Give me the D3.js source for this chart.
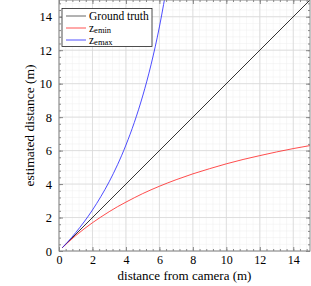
<!DOCTYPE html>
<html>
<head>
<meta charset="utf-8">
<script src="https://cdn.jsdelivr.net/npm/d3@7"></script>
<style>
  body { margin: 0; background: #fff; }
  svg text { font-family: "Liberation Serif", "DejaVu Serif", serif; fill: #000; }
</style>
</head>
<body>
<div id="chart"></div>
<script>
// values
const truthX = [0.2, 15];
const truthY = [0.2, 15];

const eminX = [0.2, 0.5, 1, 1.5, 2, 2.5, 3, 3.5, 4, 5, 6, 7, 8, 9, 10, 11, 12, 13, 14, 15];
const eminY = [0.2, 0.48, 0.92, 1.32, 1.69, 2.03, 2.35, 2.65, 2.92, 3.43, 3.87, 4.26, 4.61, 4.92, 5.21, 5.47, 5.7, 5.92, 6.12, 6.3];

const emaxX = [0.2, 0.5, 1, 1.5, 2, 2.5, 3, 3.5, 4, 4.5, 5, 5.5, 6, 6.5];
const emaxY = [0.2, 0.52, 1.1, 1.74, 2.45, 3.25, 4.14, 5.16, 6.33, 7.68, 9.26, 11.13, 13.39, 16.17];

const xTicks = [0, 2, 4, 6, 8, 10, 12, 14];
const yTicks = [0, 2, 4, 6, 8, 10, 12, 14];

const margin = { top: 0, right: 1, bottom: 35, left: 59 },
      width = 311 - margin.left - margin.right,
      height = 286 - margin.top - margin.bottom;

const svg = d3.select('#chart').append('svg')
  .attr('width', 311)
  .attr('height', 286);

const g = svg.append('g')
  .attr('transform', `translate(${margin.left},${margin.top})`);

const x = d3.scaleLinear().domain([0, 15]).range([0, width]);
const y = d3.scaleLinear().domain([0, 15]).range([height, 0]);

const minor = d3.range(0, 15.01, 0.4);

// minor grid
g.append('g').selectAll('line').data(minor).enter().append('line')
  .attr('x1', d => x(d)).attr('x2', d => x(d))
  .attr('y1', 0).attr('y2', height)
  .attr('stroke', '#eeeeee').attr('stroke-width', 0.5);
g.append('g').selectAll('line').data(minor).enter().append('line')
  .attr('y1', d => y(d)).attr('y2', d => y(d))
  .attr('x1', 0).attr('x2', width)
  .attr('stroke', '#eeeeee').attr('stroke-width', 0.5);

// major grid
g.append('g').selectAll('line').data(xTicks).enter().append('line')
  .attr('x1', d => x(d)).attr('x2', d => x(d))
  .attr('y1', 0).attr('y2', height)
  .attr('stroke', '#d8d8d8').attr('stroke-width', 0.8);
g.append('g').selectAll('line').data(yTicks).enter().append('line')
  .attr('y1', d => y(d)).attr('y2', d => y(d))
  .attr('x1', 0).attr('x2', width)
  .attr('stroke', '#d8d8d8').attr('stroke-width', 0.8);

// axes (ticks inside, like pgfplots)
const axisColor = '#888';
function styleAxis(sel) {
  sel.select('.domain').remove();
  sel.selectAll('line').attr('stroke', axisColor);
}
g.append('g').attr('transform', `translate(0,${height})`)
  .call(d3.axisBottom(x).tickValues(xTicks).tickSize(-4).tickPadding(4))
  .call(styleAxis)
  .selectAll('text').attr('font-size', 12);
g.append('g').attr('transform', `translate(0,${height})`)
  .call(d3.axisBottom(x).tickValues(minor).tickSize(-2).tickFormat(''))
  .call(styleAxis);
g.append('g')
  .call(d3.axisTop(x).tickValues(xTicks).tickSize(-4).tickFormat(''))
  .call(styleAxis);
g.append('g')
  .call(d3.axisTop(x).tickValues(minor).tickSize(-2).tickFormat(''))
  .call(styleAxis);
g.append('g')
  .call(d3.axisLeft(y).tickValues(yTicks).tickSize(-4).tickPadding(7))
  .call(styleAxis)
  .selectAll('text').attr('font-size', 12.5);
g.append('g')
  .call(d3.axisLeft(y).tickValues(minor).tickSize(-2).tickFormat(''))
  .call(styleAxis);
g.append('g').attr('transform', `translate(${width},0)`)
  .call(d3.axisRight(y).tickValues(yTicks).tickSize(-4).tickFormat(''))
  .call(styleAxis);
g.append('g').attr('transform', `translate(${width},0)`)
  .call(d3.axisRight(y).tickValues(minor).tickSize(-2).tickFormat(''))
  .call(styleAxis);

// curves
g.append('clipPath').attr('id', 'clip')
  .append('rect').attr('width', width).attr('height', height);

const line = d3.line()
  .x(d => x(d[0])).y(d => y(d[1]))
  .curve(d3.curveMonotoneX);

const series = [
  { xs: truthX, ys: truthY, color: '#000' },
  { xs: eminX, ys: eminY, color: '#ff2020' },
  { xs: emaxX, ys: emaxY, color: '#2020ff' }
];
series.forEach(s => {
  g.append('path')
    .datum(d3.zip(s.xs, s.ys))
    .attr('clip-path', 'url(#clip)')
    .attr('fill', 'none')
    .attr('stroke', s.color)
    .attr('stroke-width', 0.8)
    .attr('d', line);
});

// frame
g.append('rect')
  .attr('width', width).attr('height', height)
  .attr('fill', 'none').attr('stroke', axisColor).attr('stroke-width', 1);

// legend
const leg = g.append('g').attr('transform', 'translate(3,8.5)');
leg.append('rect')
  .attr('width', 90).attr('height', 38)
  .attr('fill', '#fff').attr('stroke', '#222').attr('stroke-width', 0.8);
const legItems = [
  { label: 'Ground truth', color: '#555' },
  { label: 'z', sub: 'emin', color: '#ff4040' },
  { label: 'z', sub: 'emax', color: '#4040ff' }
];
legItems.forEach((d, i) => {
  const ly = 7.5 + i * 12;
  leg.append('line')
    .attr('x1', 4).attr('x2', 24).attr('y1', ly).attr('y2', ly)
    .attr('stroke', d.color).attr('stroke-width', 0.9);
  const t = leg.append('text')
    .attr('x', 27).attr('y', ly + 3.5)
    .attr('font-size', 11.5)
    .text(d.label);
  if (d.sub) {
    t.append('tspan').attr('font-size', 8.5).attr('dy', 1.5)
      .attr('fill', '#000').text(d.sub);
  }
});

// axis titles
svg.append('text')
  .attr('x', margin.left + width / 2).attr('y', 280)
  .attr('text-anchor', 'middle').attr('font-size', 13)
  .text('distance from camera (m)');
svg.append('text')
  .attr('transform', `translate(34,${height / 2}) rotate(-90)`)
  .attr('text-anchor', 'middle').attr('font-size', 13.5)
  .text('estimated distance (m)');
</script>
</body>
</html>
